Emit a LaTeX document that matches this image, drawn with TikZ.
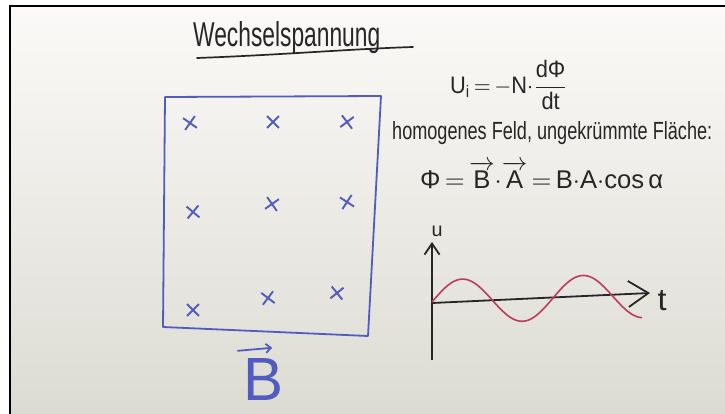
\documentclass[tikz,border=0pt]{standalone}
\usepackage{fontspec}
\setmainfont{Liberation Sans}
\usepackage{graphicx}
\usetikzlibrary{arrows.meta,shapes.misc}
\definecolor{ink}{RGB}{38,38,38}
\definecolor{penblue}{RGB}{82,92,192}
\definecolor{penred}{RGB}{192,58,92}
\definecolor{boardtop}{RGB}{251,250,248}
\definecolor{boardbot}{RGB}{220,219,211}
\tikzset{
  txt/.style={inner sep=0pt, text=ink},
  fieldx/.style={cross out, draw=penblue, line width=1.9pt, minimum size=10pt, inner sep=0pt},
  axis/.style={draw=ink, line width=1.8pt},
  loop/.style={draw=penblue, line width=1.8pt, line join=round},
}
\newcommand{\tx}[1]{\mbox{#1}}
\newcommand{\vecl}[1]{\overrightarrow{\tx{#1}\rule{0pt}{0.82em}}}
\begin{document}
\begin{tikzpicture}[x=1pt,y=-1pt]
\useasboundingbox (0,0) rectangle (725,414);
\fill[white] (0,0) rectangle (725,414);
\shade[top color=boardtop,bottom color=boardbot] (10,6) rectangle (725,414);
\draw[black, line width=2.3pt] (10,414) -- (10,6) -- (725,6);

% title
\node[txt, anchor=base west] (title) at (193,47) {\resizebox{187pt}{25pt}{Wechselspannung}};
\draw[ink, line width=1.7pt, line cap=round] (197,58) .. controls (280,55) and (350,49) .. (413,47);

% formulas
\node[txt] (induct) at (509,85) {\resizebox*{118pt}{50pt}{$\displaystyle \tx{U}_{\tx{\scriptsize i}}\,{=}\,{-}\tx{N}{\cdot}\frac{\tx{dΦ}}{\tx{dt}}$}};
\node[txt, anchor=base west] (cond) at (392,140) {\resizebox{320pt}{18pt}{homogenes Feld, ungekrümmte Fläche:}};
\node[txt, anchor=base west] (flux) at (420,189) {\resizebox{243pt}{!}{$\tx{Φ}\,{=}\,\vecl{B}{\cdot}\vecl{A}\,{=}\,\tx{B}{\cdot}\tx{A}{\cdot}\tx{cos}\,\tx{α}$}};

% field area
\draw[loop] (165,97) -- (381,96) -- (368,336) -- (163,327) -- cycle;
\foreach \px/\py/\r in {190/123/10, 273/122/0, 347/122/-8,
                        193/212/5, 272/204/-10, 347/202/12,
                        193/310/0, 268/298/8, 337/293/-6}
  \node[fieldx, rotate=\r] at (\px,\py) {};
\node[inner sep=0pt, text=penblue, anchor=base] (bfield) at (264,400) {\resizebox{40pt}{42pt}{B}};
\draw[penblue, line width=1.8pt, line cap=round, -{Straight Barb[length=5pt,width=9pt]}]
  ([xshift=-6pt,yshift=7pt]bfield.north west) -- ([xshift=-12pt,yshift=10pt]bfield.north east);

% graph
\coordinate (O) at (432,303);
\coordinate (ytop) at (432,242);
\coordinate (ybot) at (432,360);
\coordinate (xend) at (650,293);
\draw[axis] (ybot) -- (O);
\draw[axis, -{Straight Barb[length=11pt,width=15pt]}] (O) -- (ytop);
\draw[axis, -{Straight Barb[length=20pt,width=26pt]}] (O) -- (xend);
\node[txt] (ulab) at (437,231) {\resizebox{11pt}{!}{u}};
\node[txt] (tlab) at (662,301) {\resizebox{9pt}{20pt}{t}};
\draw[penred, line width=1.6pt] plot[domain=0:210, samples=90, smooth]
  ({432+\x},{302-0.03*\x-22*sin(\x/120.7*360)});
\end{tikzpicture}
\end{document}
